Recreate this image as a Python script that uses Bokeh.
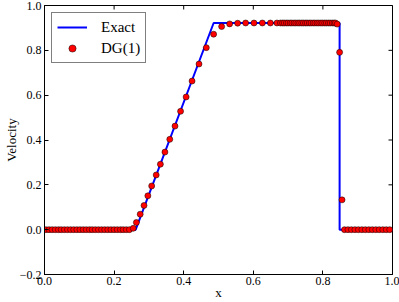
import math
from bokeh.plotting import figure
from bokeh.models import Range1d, FixedTicker, CustomJSTickFormatter
from bokeh.embed import file_html
from bokeh.resources import INLINE

# Exact solution (piecewise linear)
exact_x = [0.0, 0.262, 0.486, 0.848, 0.848, 1.0]
exact_v = [0.0, 0.0, 0.922, 0.922, 0.0, 0.0]

# DG(1) solution points
dg_x = [
    0.004, 0.013, 0.022, 0.031, 0.040, 0.048, 0.057, 0.066, 0.075, 0.084,
    0.093, 0.102, 0.111, 0.120, 0.129, 0.137, 0.146, 0.155, 0.164, 0.173,
    0.182, 0.191, 0.200, 0.209, 0.218, 0.226, 0.235, 0.244,
    0.255, 0.264, 0.275, 0.286, 0.297, 0.308, 0.321, 0.333, 0.346, 0.360,
    0.375, 0.391, 0.407, 0.424, 0.444, 0.465, 0.486, 0.509, 0.532, 0.555,
    0.578, 0.602, 0.626, 0.649, 0.668,
    0.678, 0.684, 0.689, 0.695, 0.700, 0.706, 0.711, 0.717, 0.722, 0.728,
    0.733, 0.739, 0.744, 0.750, 0.755, 0.761, 0.766, 0.772, 0.777, 0.783,
    0.788, 0.794, 0.799, 0.805, 0.810, 0.816, 0.821, 0.827, 0.832, 0.836,
    0.841, 0.848, 0.855,
    0.862, 0.872, 0.882, 0.892, 0.902, 0.912, 0.922, 0.932, 0.942, 0.952,
    0.962, 0.972, 0.982, 0.992,
]
dg_v = [
    0.0, 0.0, 0.0, 0.0, 0.0, 0.0, 0.0, 0.0, 0.0, 0.0,
    0.0, 0.0, 0.0, 0.0, 0.0, 0.0, 0.0, 0.0, 0.0, 0.0,
    0.0, 0.0, 0.0, 0.0, 0.0, 0.0, 0.0, 0.0,
    0.006, 0.032, 0.069, 0.108, 0.151, 0.195, 0.244, 0.292, 0.346, 0.403,
    0.462, 0.528, 0.592, 0.663, 0.739, 0.812, 0.872, 0.906, 0.918, 0.921,
    0.922, 0.922, 0.922, 0.922, 0.922,
    0.922, 0.922, 0.922, 0.922, 0.922, 0.922, 0.922, 0.922, 0.922, 0.922,
    0.922, 0.922, 0.922, 0.922, 0.922, 0.922, 0.922, 0.922, 0.922, 0.922,
    0.922, 0.922, 0.922, 0.922, 0.922, 0.922, 0.922, 0.922, 0.922, 0.922,
    0.917, 0.791, 0.133,
    0.0, 0.0, 0.0, 0.0, 0.0, 0.0, 0.0, 0.0, 0.0, 0.0,
    0.0, 0.0, 0.0, 0.0,
]

x_ticks = [0.0, 0.2, 0.4, 0.6, 0.8, 1.0]
y_ticks = [-0.2, 0.0, 0.2, 0.4, 0.6, 0.8, 1.0]
x_lim = (0.0, 1.0)
y_lim = (-0.2, 1.0)

FONT = "Liberation Serif"

p = figure(width=399, height=302, x_range=Range1d(*x_lim), y_range=Range1d(*y_lim),
           output_backend="svg", toolbar_location=None,
           min_border_left=44, min_border_right=7, min_border_top=5, min_border_bottom=0)
p.grid.visible = False
p.outline_line_color = "black"
p.outline_line_width = 1
p.background_fill_color = "white"
p.border_fill_color = "white"

fmt = CustomJSTickFormatter(code="return (tick < -1e-9 ? '\u2212' : '') + Math.abs(tick).toFixed(1);")

p.xaxis.ticker = FixedTicker(ticks=x_ticks)
p.yaxis.ticker = FixedTicker(ticks=y_ticks)
p.xaxis.formatter = fmt
p.yaxis.formatter = fmt
for ax in (p.xaxis, p.yaxis):
    ax.major_tick_in = 4
    ax.major_tick_out = 0
    ax.minor_tick_line_color = None
    ax.axis_line_color = "black"
    ax.major_tick_line_color = "black"
    ax.major_label_text_font = FONT
    ax.major_label_text_font_size = "12px"
    ax.major_label_text_color = "black"
    ax.axis_label_text_font = FONT
    ax.axis_label_text_font_size = "13px"
    ax.axis_label_text_font_style = "normal"
    ax.axis_label_text_color = "black"
    ax.major_label_standoff = 3

p.xaxis.major_label_standoff = 2
p.xaxis.axis_label_standoff = -3
p.yaxis.axis_label_standoff = -2

p.xaxis.axis_label = "x"
p.yaxis.axis_label = "Velocity"

# inward ticks on the top and right edges (clipped to the frame)
p.scatter(x_ticks, [y_lim[1]] * len(x_ticks), marker="dash", angle=math.pi / 2,
          size=8, line_color="black", line_width=1)
p.scatter([x_lim[1]] * len(y_ticks), y_ticks, marker="dash",
          size=8, line_color="black", line_width=1)

p.line(exact_x, exact_v, line_color="blue", line_width=2, legend_label="Exact")
p.scatter(dg_x, dg_v, size=6, fill_color="red", line_color="black", line_width=0.5,
          legend_label="DG(1)")

lg = p.legend[0]
lg.location = "top_left"
lg.margin = 7
lg.padding = 5
lg.spacing = 3
lg.glyph_width = 30
lg.glyph_height = 18
lg.label_height = 18
lg.label_standoff = 14
lg.label_text_font = FONT
lg.label_text_font_size = "15px"
lg.label_text_color = "black"
lg.border_line_color = "black"
lg.border_line_width = 1
lg.background_fill_alpha = 1

open("out.html", "w").write(file_html(p, INLINE))
